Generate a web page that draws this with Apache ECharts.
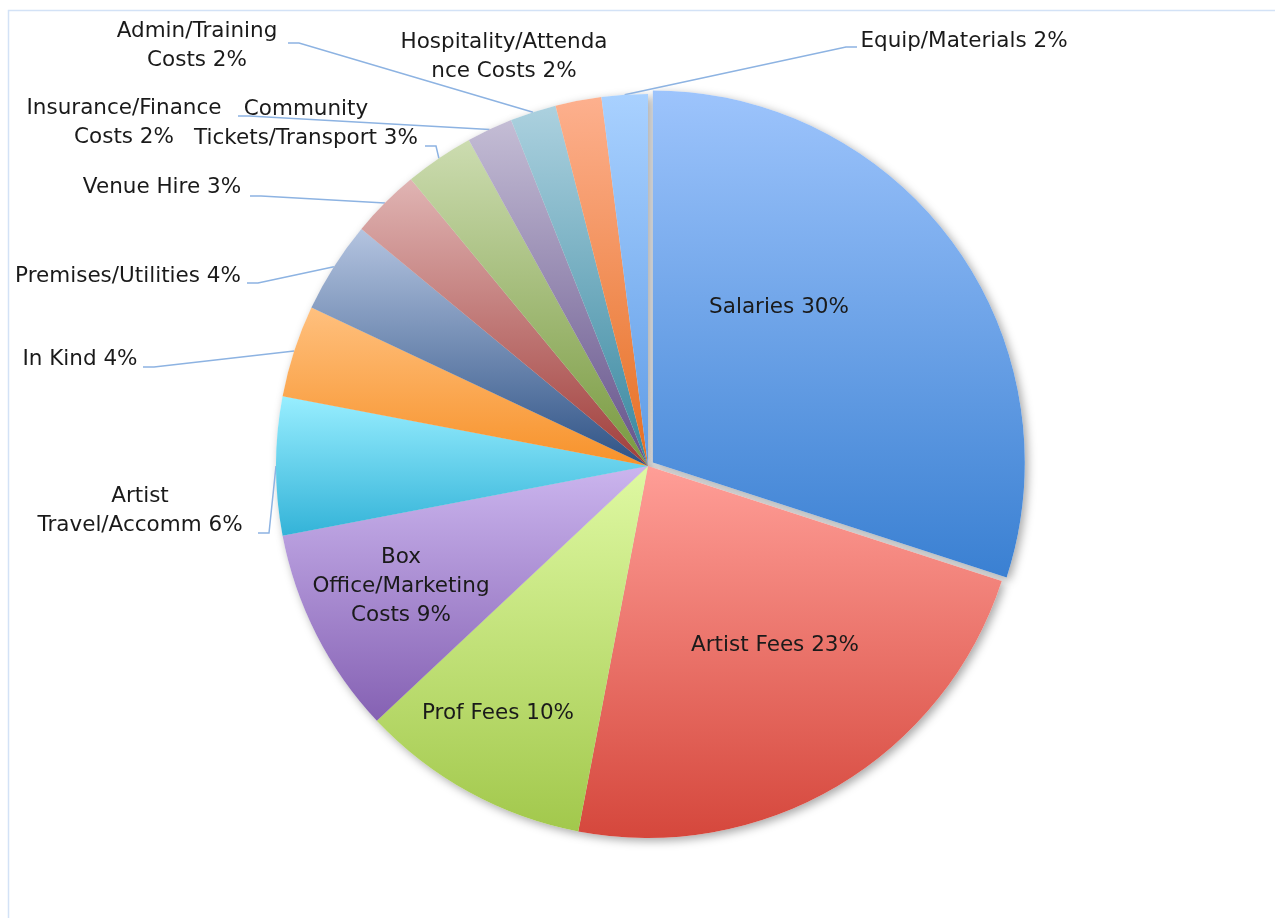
<!DOCTYPE html>
<html>
<head>
<meta charset="utf-8">
<script src="https://cdn.jsdelivr.net/npm/echarts@6/dist/echarts.min.js"></script>
<style>
  html, body { margin: 0; padding: 0; background: #ffffff; }
  #chart { width: 1275px; height: 918px; }
</style>
</head>
<body>
<div id="chart"></div>
<script>
// Budget breakdown by cost heading (share of total, %)
const categories = [
  'Salaries', 'Artist Fees', 'Prof Fees', 'Box Office/Marketing Costs',
  'Artist Travel/Accomm', 'In Kind', 'Premises/Utilities', 'Venue Hire',
  'Community Tickets/Transport', 'Insurance/Finance Costs',
  'Admin/Training Costs', 'Hospitality/Attendance Costs', 'Equip/Materials'
];
const values = [30, 23, 10, 9, 6, 4, 4, 3, 3, 2, 2, 2, 2];

// Label text as it wraps on the chart
const labelTexts = [
  'Salaries', 'Artist Fees', 'Prof Fees', 'Box\nOffice/Marketing\nCosts',
  'Artist\nTravel/Accomm', 'In Kind', 'Premises/Utilities', 'Venue Hire',
  'Community\nTickets/Transport', 'Insurance/Finance\nCosts',
  'Admin/Training\nCosts', 'Hospitality/Attenda\nnce Costs', 'Equip/Materials'
];

// Slice gradient colours (top -> bottom)
const topColors = [
  '#9dc4fc', '#ff9e97', '#dff9a3', '#cbb5ee', '#98eeff', '#ffc07e', '#b4c4e0',
  '#e0b4b3', '#ccdcb0', '#c4bdd5', '#acd1df', '#fdb08e', '#a9d1ff'
];
const bottomColors = [
  '#3a80d2', '#d5473c', '#a2c84c', '#8561b3', '#33b3d8', '#f7922a', '#2e5285',
  '#a03e3b', '#78993f', '#64528a', '#38879f', '#e66f22', '#5e9be6'
];

// ---- layout ----
const CENTER = [648, 466];
const RADIUS = 372;
const EXPLODE = 6;        // pull-out distance of the first slice
const EXPLODED_INDEX = 0;
const INSIDE = [true, true, true, true, false, false, false, false, false, false, false, false, false];
// label block centres
const labelCenters = [
  [779, 307], [775, 645], [498, 713], [401, 586], [140, 511], [80, 359],
  [128, 276], [162, 187], [306, 124], [124, 123], [197, 46], [504, 57], [964, 41]
];
// where each leader line meets its label (null = no leader)
const leaderEnds = [
  null, null, null, null, [258, 533], [143, 367], [247, 283], [250, 196],
  [425, 146], [238, 116], [288, 43], null, [857, 47]
];

const FONT = 'DejaVu Sans';

// centre of the pulled-out slice, moved along its mid angle
const total = values.reduce((a, b) => a + b, 0);
const before = values.slice(0, EXPLODED_INDEX).reduce((a, b) => a + b, 0);
const midAngle = (before + values[EXPLODED_INDEX] / 2) / total * Math.PI * 2;
const EXPLODED_CENTER = [
  CENTER[0] + EXPLODE * Math.sin(midAngle),
  CENTER[1] - EXPLODE * Math.cos(midAngle)
];

const chart = echarts.init(document.getElementById('chart'), null, { renderer: 'canvas' });

function gradient(i) {
  return new echarts.graphic.LinearGradient(0, 0, 0, 1, [
    { offset: 0, color: topColors[i] },
    { offset: 1, color: bottomColors[i] }
  ]);
}

const HIDDEN = 'rgba(0,0,0,0)';

// keepExploded: true -> only the pulled-out slice is visible; false -> all others
function sliceData(keepExploded) {
  return categories.map((name, i) => {
    const visible = (i === EXPLODED_INDEX) === keepExploded;
    return {
      name: name,
      value: values[i],
      itemStyle: { color: visible ? gradient(i) : HIDDEN },
      label: { show: visible, position: INSIDE[i] ? 'inside' : 'outside' },
      labelLine: { show: visible && !INSIDE[i] && leaderEnds[i] !== null }
    };
  });
}

const shadowData = categories.map((name, i) => ({
  name: name,
  value: values[i],
  selected: i === EXPLODED_INDEX
}));

const labelStyle = {
  show: true,
  color: '#1a1a1a',
  fontFamily: FONT,
  fontSize: 21.5,
  lineHeight: 29,
  width: 340,
  overflow: 'none',
  align: 'center',
  formatter: p => labelTexts[p.dataIndex] + ' ' + Math.round(p.percent) + '%'
};

function placeLabel(params) {
  const i = params.dataIndex;
  const c = labelCenters[i];
  const out = { x: c[0], y: c[1], align: 'center', verticalAlign: 'middle' };
  const end = leaderEnds[i];
  if (end && params.labelLinePoints) {
    const start = params.labelLinePoints[0];
    const dir = end[0] < CENTER[0] ? 1 : -1;
    out.labelLinePoints = [
      [start[0], start[1]],
      [end[0] + dir * 11, end[1]],
      [end[0], end[1]]
    ];
  }
  return out;
}

function slicesSeries(keepExploded) {
  return {
    type: 'pie',
    z: keepExploded ? 3 : 2,
    center: keepExploded ? EXPLODED_CENTER : CENTER,
    radius: RADIUS,
    startAngle: 90,
    clockwise: true,
    avoidLabelOverlap: false,
    emphasis: { disabled: true },
    itemStyle: { borderWidth: 0 },
    label: labelStyle,
    labelLine: {
      show: true,
      smooth: false,
      lineStyle: { color: '#8db3e2', width: 1.5 }
    },
    labelLayout: placeLabel,
    data: sliceData(keepExploded)
  };
}

chart.setOption({
  animation: false,
  backgroundColor: '#ffffff',
  graphic: [{
    type: 'rect',
    silent: true,
    shape: { x: 8.5, y: 10.5, width: 1400, height: 1000 },
    style: { fill: 'none', stroke: '#d3e2f6', lineWidth: 1.5 }
  }],
  series: [
    {
      // soft drop shadow under the pie
      type: 'pie',
      silent: true,
      z: 1,
      center: CENTER,
      radius: RADIUS,
      startAngle: 90,
      clockwise: true,
      selectedMode: 'single',
      selectedOffset: EXPLODE,
      label: { show: false },
      labelLine: { show: false },
      itemStyle: {
        color: '#ffffff',
        shadowBlur: 10,
        shadowOffsetX: 3,
        shadowOffsetY: 3,
        shadowColor: 'rgba(0,0,0,0.35)'
      },
      select: { itemStyle: { color: '#ffffff' } },
      emphasis: { disabled: true },
      data: shadowData
    },
    slicesSeries(false),
    slicesSeries(true)
  ]
});
</script>
</body>
</html>
